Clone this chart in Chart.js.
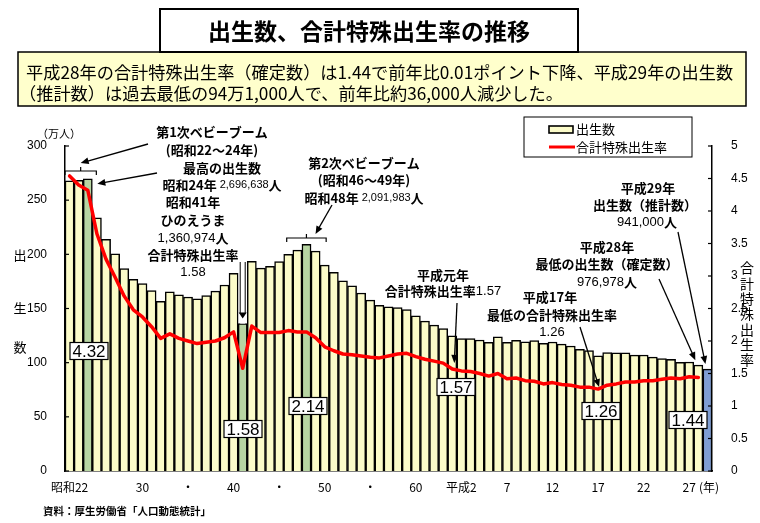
<!DOCTYPE html>
<html><head><meta charset="utf-8">
<script src="https://cdn.jsdelivr.net/npm/chart.js@4"></script>
<style>html,body{margin:0;padding:0;background:#fff}#wrap{width:760px;height:523px;position:relative}</style>
</head><body><div id="wrap"><canvas id="c" width="760" height="523"></canvas></div>
<script>
// ---- data ----
const years = [1947,1948,1949,1950,1951,1952,1953,1954,1955,1956,1957,1958,1959,1960,1961,1962,1963,1964,1965,1966,1967,1968,1969,1970,1971,1972,1973,1974,1975,1976,1977,1978,1979,1980,1981,1982,1983,1984,1985,1986,1987,1988,1989,1990,1991,1992,1993,1994,1995,1996,1997,1998,1999,2000,2001,2002,2003,2004,2005,2006,2007,2008,2009,2010,2011,2012,2013,2014,2015,2016,2017];
// births (万人)
const births = [267.9,268.2,269.7,233.8,213.8,200.5,186.8,177.0,173.1,166.5,156.7,165.3,162.6,160.6,158.9,161.9,166.0,171.7,182.4,136.1,193.6,187.2,188.9,193.4,200.1,203.9,209.2,203.0,190.1,183.3,175.5,170.9,164.3,157.7,152.9,151.5,150.9,149.0,143.2,138.3,134.7,131.4,124.7,122.2,122.3,120.9,118.8,123.8,118.7,120.7,119.2,120.3,117.8,119.1,117.1,115.4,112.4,111.1,106.3,109.3,109.0,109.1,107.0,107.1,105.1,103.7,103.0,100.4,100.6,97.7,94.1];
// total fertility rate
const tfr = [4.54,4.40,4.32,3.65,3.26,2.98,2.69,2.48,2.37,2.22,2.04,2.11,2.04,2.00,1.96,1.98,2.00,2.05,2.14,1.58,2.23,2.13,2.13,2.13,2.16,2.14,2.14,2.05,1.91,1.85,1.80,1.79,1.77,1.75,1.74,1.77,1.80,1.81,1.76,1.72,1.69,1.66,1.57,1.54,1.53,1.50,1.46,1.50,1.42,1.43,1.39,1.38,1.34,1.36,1.33,1.32,1.29,1.29,1.26,1.32,1.34,1.37,1.37,1.39,1.39,1.41,1.43,1.42,1.45,1.44,null];
const greenYears = [1949,1966,1973];
const blueYears = [2017];
const tickYears = [1947,1955,1960,1965,1970,1975,1980,1985,1990,1995,2000,2005,2010,2015];
const tickTexts = ['昭和22','30','・','40','・','50','・','60','平成2','7','12','17','22','27'];
const leftTicks = [0,50,100,150,200,250,300];
const rightTicks = [0,0.5,1,1.5,2,2.5,3,3.5,4,4.5,5];

const JP = '"Noto Sans CJK JP","Noto Sans",sans-serif';
const NUM = '"Liberation Sans",Arial,sans-serif';
const YELLOW = '#FBFBC9', GREEN = '#B7D5A2', BLUE = '#7F9ED3';
const barColors = years.map(y => greenYears.includes(y) ? GREEN : (blueYears.includes(y) ? BLUE : YELLOW));

function arrow(ctx, x1, y1, x2, y2, head = 8) {
  ctx.save();
  ctx.strokeStyle = '#000'; ctx.fillStyle = '#000'; ctx.lineWidth = 1.3;
  const a = Math.atan2(y2 - y1, x2 - x1);
  ctx.beginPath(); ctx.moveTo(x1, y1); ctx.lineTo(x2 - Math.cos(a) * head * 0.8, y2 - Math.sin(a) * head * 0.8); ctx.stroke();
  ctx.beginPath();
  ctx.moveTo(x2, y2);
  ctx.lineTo(x2 - head * Math.cos(a) + head * 0.42 * Math.sin(a), y2 - head * Math.sin(a) - head * 0.42 * Math.cos(a));
  ctx.lineTo(x2 - head * Math.cos(a) - head * 0.42 * Math.sin(a), y2 - head * Math.sin(a) + head * 0.42 * Math.cos(a));
  ctx.closePath(); ctx.fill();
  ctx.restore();
}
function txt(ctx, s, x, y, font, align = 'center') {
  ctx.font = font; ctx.textAlign = align; ctx.textBaseline = 'middle'; ctx.fillStyle = '#000';
  ctx.fillText(s, x, y);
}
function segs(ctx, parts, x, y, align = 'center') {
  let w = 0;
  parts.forEach(p => { ctx.font = p[1]; w += ctx.measureText(p[0]).width; });
  let cx = align === 'center' ? x - w / 2 : x;
  ctx.textAlign = 'left'; ctx.textBaseline = 'middle'; ctx.fillStyle = '#000';
  parts.forEach(p => { ctx.font = p[1]; ctx.fillText(p[0], cx, y); cx += ctx.measureText(p[0]).width; });
}
function bracket(ctx, x1, x2, y) {
  ctx.save(); ctx.strokeStyle = '#000'; ctx.lineWidth = 1.2;
  ctx.beginPath();
  ctx.moveTo(x1, y + 4); ctx.lineTo(x1, y); ctx.lineTo(x2, y); ctx.lineTo(x2, y + 4);
  const m = (x1 + x2) / 2; ctx.moveTo(m, y); ctx.lineTo(m, y - 4);
  ctx.stroke(); ctx.restore();
}
function valBox(ctx, s, cx, cy) {
  const w = 38, h = 17;
  ctx.fillStyle = '#fff'; ctx.fillRect(cx - w / 2, cy - h / 2, w, h);
  ctx.strokeStyle = '#000'; ctx.lineWidth = 1.2; ctx.strokeRect(cx - w / 2, cy - h / 2, w, h);
  txt(ctx, s, cx, cy + 1, '17px ' + NUM);
}

const annot = {
  id: 'annot',
  afterDraw(chart) {
    const ctx = chart.ctx;
    const xs = chart.scales.x, ys = chart.scales.y, y2 = chart.scales.y2;
    const ca = chart.chartArea;
    // inner tick marks
    ctx.save(); ctx.strokeStyle = '#000'; ctx.lineWidth = 1.2;
    leftTicks.forEach(v => { const p = ys.getPixelForValue(v); ctx.beginPath(); ctx.moveTo(ca.left, p); ctx.lineTo(ca.left + 4, p); ctx.stroke(); });
    rightTicks.forEach(v => { const p = y2.getPixelForValue(v); ctx.beginPath(); ctx.moveTo(ca.right, p); ctx.lineTo(ca.right - 4, p); ctx.stroke(); });
    ctx.restore();

    // header: yellow info box + title box
    ctx.save();
    ctx.fillStyle = '#FFFFCC'; ctx.fillRect(18, 52, 728, 54);
    ctx.strokeStyle = '#000'; ctx.lineWidth = 1.5; ctx.strokeRect(18, 52, 728, 54);
    const l1 = '平成28年の合計特殊出生率（確定数）は1.44で前年比0.01ポイント下降、平成29年の出生数';
    const l2 = '（推計数）は過去最低の94万1,000人で、前年比約36,000人減少した。';
    ctx.font = '17px ' + JP;
    const fs = Math.min(18, 17 * 708 / ctx.measureText(l1).width);
    txt(ctx, l1, 26, 72, fs.toFixed(2) + 'px ' + JP, 'left');
    txt(ctx, l2, 19, 93, fs.toFixed(2) + 'px ' + JP, 'left');
    ctx.fillStyle = '#fff'; ctx.fillRect(160, 9, 418, 43);
    ctx.lineWidth = 2; ctx.strokeRect(160, 9, 418, 43);
    txt(ctx, '出生数、合計特殊出生率の推移', 369, 31, 'bold 23px ' + JP);
    ctx.restore();

    // legend
    ctx.save();
    ctx.fillStyle = '#fff'; ctx.fillRect(524, 117, 168, 40);
    ctx.strokeStyle = '#000'; ctx.lineWidth = 1; ctx.strokeRect(524, 117, 168, 40);
    ctx.fillStyle = YELLOW; ctx.fillRect(549, 126, 24, 7);
    ctx.lineWidth = 1.6; ctx.strokeRect(549, 126, 24, 7);
    txt(ctx, '出生数', 576, 129, '13px ' + JP, 'left');
    ctx.strokeStyle = '#ff0000'; ctx.lineWidth = 3; ctx.beginPath(); ctx.moveTo(549, 147); ctx.lineTo(575, 147); ctx.stroke();
    txt(ctx, '合計特殊出生率', 576, 147, '13px ' + JP, 'left');
    ctx.restore();

    // axis titles
    txt(ctx, '（万人）', 59, 134, '11px ' + JP);
    txt(ctx, '出', 20, 255, '13px ' + JP);
    txt(ctx, '生', 20, 308, '13px ' + JP);
    txt(ctx, '数', 20, 347, '13px ' + JP);
    const rt = '合計特殊出生率';
    for (let i = 0; i < rt.length; i++) txt(ctx, rt[i], 747, 268 + i * 15.3, '14px ' + JP);
    txt(ctx, '(年)', 709, 487, '12px ' + JP);
    txt(ctx, '資料：厚生労働省「人口動態統計」', 43, 511, 'bold 10.5px ' + JP, 'left');

    const B = 'bold 13px ' + JP, S = '11px ' + NUM;
    const bx = i => xs.getPixelForValue(i);
    const half = (xs.getPixelForValue(1) - xs.getPixelForValue(0)) / 2;
    // first baby boom
    txt(ctx, '第1次ベビーブーム', 212, 132, B);
    txt(ctx, '(昭和22〜24年)', 212, 150, B);
    bracket(ctx, bx(0) - half, bx(2) + half + 4, 171);
    arrow(ctx, 148, 144, bx(1) + 2, 163);
    txt(ctx, '最高の出生数', 222, 168, B);
    segs(ctx, [['昭和24年 ', B], ['2,696,638', S], ['人', B]], 222, 185);
    arrow(ctx, 157, 173, bx(2) + half + 5, ys.getPixelForValue(births[2]) + 5);
    // hinoeuma
    txt(ctx, '昭和41年', 193, 202, B);
    txt(ctx, 'ひのえうま', 193, 220, B);
    segs(ctx, [['1,360,974', '13px ' + NUM], ['人', B]], 193, 238);
    txt(ctx, '合計特殊出生率', 193, 255, B);
    txt(ctx, '1.58', 193, 272, '13px ' + NUM);
    {
      const x = bx(19), top = ys.getPixelForValue(births[19]);
      ctx.save();
      ctx.fillStyle = '#fff'; ctx.strokeStyle = '#000'; ctx.lineWidth = 1;
      ctx.fillRect(x - 2.5, 262, 5, top - 262);
      ctx.beginPath(); ctx.moveTo(x - 2.5, 262); ctx.lineTo(x - 2.5, top - 10); ctx.moveTo(x + 2.5, 262); ctx.lineTo(x + 2.5, top - 10); ctx.stroke();
      ctx.fillStyle = '#000'; ctx.beginPath(); ctx.moveTo(x - 4, top - 11); ctx.lineTo(x + 4, top - 11); ctx.lineTo(x, top - 5); ctx.closePath(); ctx.fill();
      ctx.restore();
    }
    // second baby boom
    txt(ctx, '第2次ベビーブーム', 364, 163, B);
    txt(ctx, '(昭和46〜49年)', 364, 180, B);
    segs(ctx, [['昭和48年 ', B], ['2,091,983', S], ['人', B]], 364, 198);
    bracket(ctx, bx(24) - half + 3, bx(27) + half + 6, 238);
    arrow(ctx, 332, 205, bx(26) + 9, 234);
    // heisei 1
    txt(ctx, '平成元年', 443, 275, B);
    segs(ctx, [['合計特殊出生率', B], ['1.57', '13px ' + NUM]], 443, 291);
    arrow(ctx, 457, 303, bx(42) + 2, y2.getPixelForValue(tfr[42]) - 6);
    // heisei 17
    txt(ctx, '平成17年', 550, 297, B);
    txt(ctx, '最低の合計特殊出生率', 552, 315, B);
    txt(ctx, '1.26', 552, 332, '13px ' + NUM);
    arrow(ctx, 580, 327, bx(58) + 1, y2.getPixelForValue(tfr[58]) - 2);
    // heisei 28
    txt(ctx, '平成28年', 607, 247, B);
    txt(ctx, '最低の出生数（確定数）', 607, 264, B);
    segs(ctx, [['976,978', '13px ' + NUM], ['人', B]], 607, 282);
    arrow(ctx, 659, 279, bx(69) - 3, ys.getPixelForValue(births[69]) - 5);
    // heisei 29
    txt(ctx, '平成29年', 648, 188, B);
    txt(ctx, '出生数（推計数）', 645, 205, B);
    segs(ctx, [['941,000', '13px ' + NUM], ['人', B]], 647, 222);
    arrow(ctx, 678, 232, bx(70) - 2, ys.getPixelForValue(births[70]) - 5);

    // value boxes
    valBox(ctx, '4.32', 89, 351);
    valBox(ctx, '1.58', 243, 429);
    valBox(ctx, '2.14', 308, 406);
    valBox(ctx, '1.57', 456, 387);
    valBox(ctx, '1.26', 601, 411);
    valBox(ctx, '1.44', 688, 420);
  }
};

new Chart(document.getElementById('c').getContext('2d'), {
  type: 'bar',
  data: {
    labels: years,
    datasets: [
      { type: 'bar', label: '出生数', data: births, yAxisID: 'y', backgroundColor: barColors, borderColor: '#000', borderWidth: 1.5, borderSkipped: 'bottom', barPercentage: 1, categoryPercentage: 1, order: 2 },
      { type: 'line', label: '合計特殊出生率', data: tfr, yAxisID: 'y2', borderColor: '#ff0000', borderWidth: 3.5, pointRadius: 0, tension: 0, order: 1, borderJoinStyle: 'round', borderCapStyle: 'round' }
    ]
  },
  options: {
    responsive: false, animation: false, events: [],
    layout: { padding: { top: 146, left: 0, right: 0, bottom: 0 } },
    plugins: { legend: { display: false }, tooltip: { enabled: false } },
    scales: {
      x: {
        grid: { display: false }, border: { display: true, color: '#000', width: 1.5 },
        ticks: { autoSkip: false, maxRotation: 0, minRotation: 0, padding: 1, color: '#000', font: { size: 12, family: JP },
          callback: (v, i) => { const k = tickYears.indexOf(years[i]); return k >= 0 ? tickTexts[k] : ''; } },
        afterFit: s => { s.height = 52; }
      },
      y: {
        position: 'left', min: 0, max: 300,
        grid: { display: false }, border: { display: true, color: '#000', width: 1.5 },
        ticks: { stepSize: 50, padding: 10, color: '#000', font: { size: 12, family: NUM } },
        afterBuildTicks: s => { s.ticks = leftTicks.map(v => ({ value: v })); },
        afterFit: s => { s.width = 65; }
      },
      y2: {
        position: 'right', min: 0, max: 5,
        grid: { display: false }, border: { display: true, color: '#000', width: 1.5 },
        ticks: { stepSize: 0.5, padding: 11, color: '#000', font: { size: 12, family: NUM }, callback: v => String(v) },
        afterBuildTicks: s => { s.ticks = rightTicks.map(v => ({ value: v })); },
        afterFit: s => { s.width = 48; }
      }
    }
  },
  plugins: [annot]
});
</script></body></html>
